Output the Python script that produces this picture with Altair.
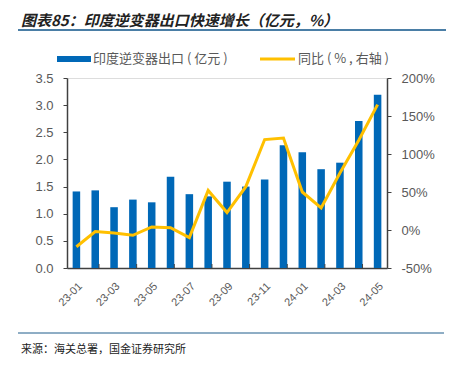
import altair as alt
import pandas as pd

months = ["23-01", "23-02", "23-03", "23-04", "23-05", "23-06", "23-07", "23-08", "23-09",
          "23-10", "23-11", "23-12", "24-01", "24-02", "24-03", "24-04", "24-05"]
export_value = [1.41, 1.43, 1.12, 1.26, 1.21, 1.68, 1.36, 1.32, 1.59, 1.50, 1.63, 2.26,
                2.13, 1.82, 1.94, 2.71, 3.19]
yoy_pct = [-22, -2, -4, -7, 4, 3, -10, 52, 23, 57, 119, 121, 50, 29, 75, 118, 165]

left_ticks = [0, 0.5, 1.0, 1.5, 2.0, 2.5, 3.0, 3.5]
right_ticks = [-50, 0, 50, 100, 150, 200]
shown_labels = months[::2]
tick_months = months[1:16:2]

title_text = "图表85：印度逆变器出口快速增长（亿元，%）"
bar_name = "印度逆变器出口 ( 亿元 )"
line_name = "同比 ( % , 右轴 )"
source_text = "来源：海关总署，国金证券研究所"

df = pd.DataFrame({"month": months, "export": export_value, "yoy": yoy_pct})
tick_df = pd.DataFrame({"month": tick_months})

W, H = 320, 190
BLUE = "#0068B7"
YELLOW = "#FFC000"
GRAY = "#595959"
AXIS = "#404040"
FONT = "Liberation Sans, Noto Sans CJK SC"
CJK = "Noto Sans CJK SC"

xscale = alt.Scale(domain=months, paddingInner=0.6, paddingOuter=0.3)
xaxis = alt.Axis(values=shown_labels, labelAngle=-45, labelAlign="right",
                 labelBaseline="top", labelPadding=12, ticks=False,
                 domainColor=AXIS, domainWidth=1.5, labelColor=GRAY,
                 labelFontSize=11, labelFont=FONT, title=None)

bars = alt.Chart(df).mark_bar(color=BLUE).encode(
    x=alt.X("month:N", scale=xscale, sort=months, axis=xaxis),
    y=alt.Y("export:Q", scale=alt.Scale(domain=[0, 3.5], nice=False),
            axis=alt.Axis(values=left_ticks, format=".1f", grid=False, tickSize=4,
                          tickColor=AXIS, domainColor=AXIS, domainWidth=1.5,
                          labelColor=GRAY, labelFontSize=13, labelFont=FONT,
                          labelPadding=10, title=None)),
)

xticks = alt.Chart(tick_df).mark_rule(color=AXIS, strokeWidth=1).encode(
    x=alt.X("month:N", scale=xscale, sort=months, bandPosition=1, axis=xaxis),
    y=alt.value(H),
    y2=alt.value(H - 4),
)

line = alt.Chart(df).mark_line(color=YELLOW, strokeWidth=3).encode(
    x=alt.X("month:N", scale=xscale, sort=months, axis=xaxis),
    y=alt.Y("yoy:Q", scale=alt.Scale(domain=[-50, 200], nice=False),
            axis=alt.Axis(orient="right", values=right_ticks, labelExpr="datum.value + '%'",
                          grid=False, tickSize=4, tickColor=AXIS, domainColor=AXIS,
                          domainWidth=1.5, labelColor=GRAY, labelFontSize=13,
                          labelFont=FONT, labelPadding=10, title=None)),
)

one = alt.Data(values=[{}])
L, T = 59, 70  # padding

def px(x):
    return x - 8 - L

def py(y):
    return y - 8 - T

leg_rect = alt.Chart(one).mark_rect(color=BLUE).encode(
    x=alt.value(px(57)), x2=alt.value(px(91)), y=alt.value(py(56)), y2=alt.value(py(62)))
leg_text1 = alt.Chart(one).mark_text(align="left", baseline="middle", fontSize=13,
                                     font=CJK, color=GRAY).encode(
    x=alt.value(px(93)), y=alt.value(py(59)), text=alt.value(bar_name))
leg_line = alt.Chart(one).mark_rule(color=YELLOW, strokeWidth=3).encode(
    x=alt.value(px(260)), x2=alt.value(px(295)), y=alt.value(py(59)))
leg_text2 = alt.Chart(one).mark_text(align="left", baseline="middle", fontSize=13,
                                     font=CJK, color=GRAY).encode(
    x=alt.value(px(298)), y=alt.value(py(59)), text=alt.value(line_name))

title = alt.Chart(one).mark_text(align="left", baseline="middle", fontSize=15,
                                 font=CJK, fontWeight="bold", fontStyle="italic",
                                 color="#222222").encode(
    x=alt.value(px(21)), y=alt.value(py(20.5)), text=alt.value(title_text))
title_rule = alt.Chart(one).mark_rule(color="#4A7EA6", strokeWidth=2).encode(
    x=alt.value(px(18)), x2=alt.value(px(446)), y=alt.value(py(30)))
foot_rule = alt.Chart(one).mark_rule(color="#1F5C8B", strokeWidth=1).encode(
    x=alt.value(px(18)), x2=alt.value(px(444)), y=alt.value(py(333)))
source = alt.Chart(one).mark_text(align="left", baseline="middle", fontSize=11,
                                  font=CJK, color="#222222").encode(
    x=alt.value(px(21)), y=alt.value(py(350)), text=alt.value(source_text))

chart = alt.layer(
    bars, xticks, line, leg_rect, leg_text1, leg_line, leg_text2,
    title, title_rule, foot_rule, source
).resolve_scale(y="independent").properties(
    width=W, height=H,
    autosize=alt.AutoSizeParams(type="none"),
    padding={"left": L, "top": T, "right": 438 - L - W, "bottom": 351 - T - H},
).configure_view(stroke=None).configure(background="white")

chart.save("out.html", embed_options={"renderer": "svg", "actions": False})
